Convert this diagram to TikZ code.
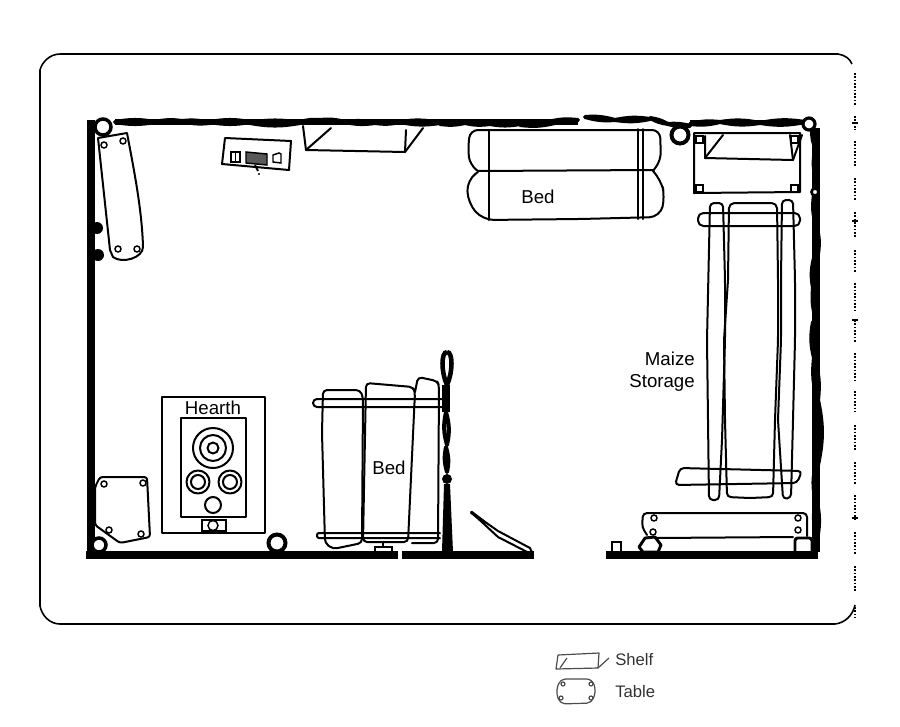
\documentclass[tikz,border=0pt]{standalone}
\usepackage{fontspec}
\setmainfont{Liberation Sans}
\tikzset{
    furn/.style={line width=1.5pt,line join=round,line cap=round},
    peg/.style={line width=1.1pt},
    wall/.style={line width=6pt,line cap=butt},
    rough/.style={line width=3pt,line join=round},
    frame/.style={line width=1.2pt},
    dotline/.style={line width=1.3pt,dash pattern=on 1.3pt off 1.2pt},
    legend/.style={line width=0.9pt,black!70,line join=round},
    label/.style={font=\fontsize{14}{16.5}\selectfont,inner sep=0pt},
    keylabel/.style={font=\fontsize{12.5}{15}\selectfont,inner sep=0pt,anchor=west,black!80}
}
\begin{document}
\begin{tikzpicture}[x=0.75pt,y=-0.75pt]
    \useasboundingbox (0,0) rectangle (900,726);
    % outer frame
    \draw[frame] (40,70) .. controls (42,62) and (50,54) .. (60,54) -- (838,54) .. controls (845,55) and (850,59) .. (852,64);
    \draw[frame] (40,70) -- (40,606) .. controls (42,616) and (50,624) .. (60,624) -- (835,624) .. controls (845,623) and (853,615) .. (855,605);
    \foreach \a/\b in {73/105,116/130,141/167,178/200,212/238,250/272,283/310,320/342,353/380,391/412,425/450,462/484,495/520,532/555,566/592,607/618}
        \draw[dotline] (855,\a) -- (855,\b);
    \foreach \a in {123,221,320,518}
        \draw[line width=0.8pt] (852,\a) -- (858,\a);
    % straight walls
    \draw[wall] (91,120) -- (91,559);
    \draw[wall] (86,555) -- (398,555);
    \draw[wall] (402,555) -- (534,555);
    \draw[wall] (606,555) -- (818,555);
    \draw[line width=4.5pt] (115,122) -- (578,122);
    \draw[line width=3.5pt] (690,122) -- (805,122);
    \draw[line width=6pt] (816,128) -- (816,552);
    % rough top wall
    \foreach \xa/\ya/\xb/\yb in {115/122/155/122,155/122/182/121,182/121/210/123,210/122/250/122,250/123/300/123,300/122/320/120,320/120/345/122,345/122/375/123,375/123/400/122,400/122/440/123,
        440/124/465/123,465/123/490/124,490/124/520/124,520/125/555/123,548/122/578/120,585/117/615/120,615/120/650/119,650/118/668/124,668/124/690/126,690/124/720/122,720/122/760/123,760/123/805/122}
        \draw[rough] (\xa,\ya) to[bend left=10] (\xb,\yb) to[bend left=10] cycle;
    % rough right wall
    \foreach \xa/\ya/\xb/\yb in {812/128/816/150,815/150/816/180,814/195/816/225,816/225/818/254,814/258/813/288,813/288/817/322,
        813/322/814/358,814/358/818/400,818/400/818/465,816/465/815/498,816/498/817/540}
        \draw[rough] (\xa,\ya) to[bend left=12] (\xb,\yb) to[bend left=12] cycle;
    % posts
    \draw[line width=2.6pt,fill=white] (103,127) circle[radius=8];
    \draw[line width=3pt,fill=white] (680,135) circle[radius=8.5];
    \draw[line width=2.4pt,fill=white] (809,124) circle[radius=6];
    \draw[line width=2pt,fill=white] (815,192) circle[radius=3.5];
    \draw[line width=2.6pt,fill=white] (99,545) circle[radius=7];
    \draw[line width=3pt,fill=white] (277,543) circle[radius=8.5];
    \draw[line width=2.2pt,rounded corners=2pt] (795,552) -- (795,538) -- (812,538) -- (812,552);
    \draw[line width=2.2pt,line join=round] (639,547) -- (645,538) -- (655,537) -- (661,545) -- (658,552) -- (643,552) -- cycle;
    \draw[line width=2pt] (612,552) -- (612,542) -- (621,542) -- (621,552);
    \fill (97,228) circle[radius=6];
    \fill (98,255) circle[radius=6];
    % partition and door
    \draw[line width=3.4pt,fill=white] (447,352) .. controls (441,352) and (441,372) .. (447,385) .. controls (453,372) and (453,352) .. (447,352);
    \draw[line width=6pt] (446,385) -- (446,412);
    \foreach \ya/\yb in {412/445,447/472}
        \draw[rough] (446,\ya) to[bend left=14] (447,\yb) to[bend left=14] cycle;
    \fill (447,479) circle[radius=5];
    \fill (444,484) -- (450,484) -- (453,552) -- (442,552) -- cycle;
    \draw[line width=2.4pt] (471,512) -- (484,522);
    \draw[furn] (471,512) -- (498,531) -- (530,548) -- (533,555) -- (498,537) -- cycle;
    \draw[line width=1.5pt] (375,552) -- (375,547) -- (392,547) -- (392,552);
    \draw[line width=1pt] (383,541) -- (383,547);
    \fill (409,552) arc[start angle=180,end angle=0,radius=4.5] -- cycle;
    % top left table
    \draw[furn] (98,138) -- (127,133) .. controls (134,170) and (142,210) .. (143,247) .. controls (143,258) and (122,264) .. (113,257) -- (110,250) -- cycle;
    \foreach \hx/\hy in {104/145,123/141,118/249,137/249}
        \draw[peg] (\hx,\hy) circle[radius=3];
    % small table
    \draw[furn] (225,138) -- (291,141) -- (289,170) -- (222,164) -- cycle;
    \draw[peg] (231,152) rectangle (240,162);
    \draw[peg] (235.5,152) -- (235.5,162);
    \draw[peg,fill=black!65] (246,152) -- (267,154) -- (267,165) -- (246,163) -- cycle;
    \draw[line width=1.5pt] (255,165) -- (258,171);
    \fill (259,174) circle[radius=1.2];
    \draw[peg] (273,155) -- (279,153) -- (281,154) -- (281,163) -- (273,162) -- cycle;
    % top shelf
    \draw[furn] (303,126) -- (306,150) -- (405,152) -- (406,130);
    \draw[furn] (306,150) -- (331,128);
    \draw[furn] (405,152) -- (423,128);
    % top bed
    \draw[furn,rounded corners=6pt] (478,171) -- (470,165) -- (468,150) -- (470,130) -- (660,130) -- (661,160) -- (653,171);
    \draw[furn] (478,171) -- (653,170);
    \draw[furn,rounded corners=8pt] (478,172) -- (467,180) -- (468,203) -- (483,220) -- (580,219) -- (660,217) -- (665,197) -- (661,180) -- (653,171);
    \draw[furn] (489,130) -- (489,220);
    \draw[furn] (638,129) -- (638,219);
    \draw[furn] (643,129) -- (643,219);
    \node[label] (bedtop) at (538,197) {Bed};
    % table with shelf
    \draw[furn] (694,133) -- (800,133) -- (800,192) -- (694,193) -- cycle;
    \foreach \xa/\ya in {696/136,791/136,696/185,791/185}
        \draw[peg] (\xa,\ya) rectangle ++(7,7);
    \draw[furn] (705,136) -- (705,158) -- (793,160) -- (802,135);
    \draw[furn] (705,158) -- (723,135);
    \draw[furn] (790,135) -- (793,160);
    % maize storage
    \draw[furn,rounded corners=3pt] (707,340) -- (710,203) -- (723,203) -- (725,280) -- (725,340) -- (722,440) -- (719,500) -- (709,500) -- (707,340);
    \draw[furn,rounded corners=4pt] (728,280) -- (729,203) -- (777,203) -- (778,280);
    \draw[furn,rounded corners=3pt] (728,280) -- (724,340) -- (725,420) -- (727,497) -- (750,498) -- (773,497) -- (775,420) -- (778,340) -- (778,280);
    \draw[furn,rounded corners=3pt] (781,280) -- (782,200) -- (793,200) -- (795,280) -- (795,340) -- (793,420) -- (791,498) -- (783,499) -- (778,420) -- (781,340) -- cycle;
    \draw[furn,rounded corners=4pt] (698,213) rectangle (800,226);
    \draw[furn,rounded corners=3pt] (680,468) -- (802,471) -- (797,483) -- (675,485) -- cycle;
    \node[label,align=right,anchor=east] (maize) at (695,372) {Maize\\Storage};
    % bottom right table
    \draw[furn,rounded corners=3pt] (647,535) -- (642,527) -- (643,513) -- (807,513) -- (807,536);
    \draw[furn] (655,538) -- (793,537);
    \foreach \hx/\hy in {654/518,798/518,653/532,798/530}
        \draw[peg,fill=white] (\hx,\hy) circle[radius=3];
    % hearth
    \draw[furn] (162,397) rectangle (265,533);
    \draw[furn] (181,418) rectangle (246,517);
    \draw[furn] (213,448) circle[radius=20];
    \draw[furn] (213,448) circle[radius=13];
    \draw[furn] (213,448) circle[radius=5.5];
    \foreach \hx in {198,230} {
        \draw[furn] (\hx,482) circle[radius=11.5];
        \draw[furn] (\hx,482) circle[radius=7];
    }
    \draw[furn] (213,505) circle[radius=8];
    \draw[peg] (202,520) rectangle (226,531);
    \draw[peg] (213,525.5) circle[radius=5];
    \node[label] (hearth) at (213,408) {Hearth};
    % bottom left table
    \draw[furn,rounded corners=2pt] (100,477) -- (147,477) -- (150,537) -- (120,543) -- (95,525) -- (95,487) -- cycle;
    \foreach \hx/\hy in {104/484,143/483,109/530,141/534}
        \draw[peg] (\hx,\hy) circle[radius=3];
    % bottom bed
    \draw[furn,rounded corners=3pt] (363,397) -- (360,390) -- (323,390) -- (322,433) -- (325,543) -- (333,549) -- (362,543) -- cycle;
    \draw[furn,rounded corners=3pt] (415,392) -- (413,387) -- (366,383) -- (363,542) -- (408,542) -- cycle;
    \draw[furn,rounded corners=3pt] (415,392) -- (418,377) -- (437,381) -- (439,385) -- (438,543) -- (412,543);
    \draw[furn,rounded corners=3pt] (442,399) -- (313,399) -- (313,407) -- (442,407);
    \draw[furn,rounded corners=1.5pt] (440,533) -- (317,533) -- (317,538) -- (440,538);
    \node[label] (bedbottom) at (389,468) {Bed};
    % legend
    \draw[legend] (558,655) -- (599,653) -- (598,668) -- (556,669) -- cycle;
    \draw[legend] (560,668) -- (567,658);
    \draw[legend] (598,668) -- (609,658);
    \draw[legend,rounded corners=4pt] (560,679) -- (592,679) -- (596,690) -- (592,703) -- (560,704) -- (556,692) -- cycle;
    \foreach \hx/\hy in {563/684,591/684,561/698,591/698}
        \draw[legend] (\hx,\hy) circle[radius=2];
    \node[keylabel] (keyshelf) at (615,660) {Shelf};
    \node[keylabel] (keytable) at (615,692) {Table};
\end{tikzpicture}
\end{document}
